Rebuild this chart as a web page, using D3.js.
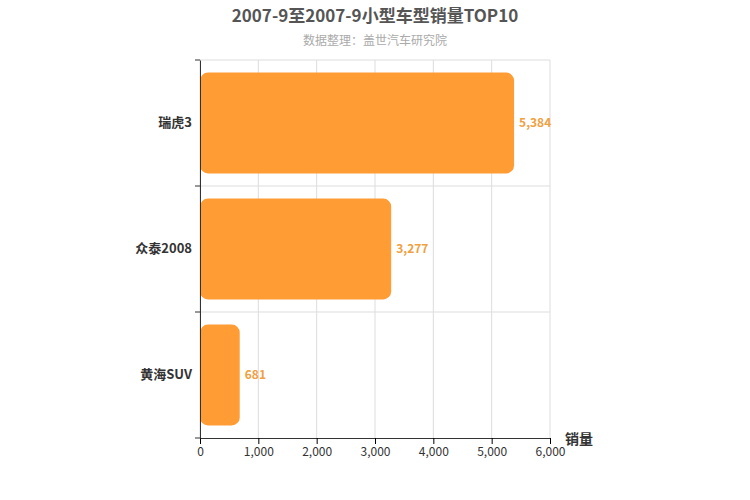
<!DOCTYPE html>
<html><head><meta charset="utf-8">
<script src="https://cdn.jsdelivr.net/npm/d3@7"></script>
<style>body{margin:0;background:#fff}text{font-family:"Noto Sans CJK SC","Liberation Sans",sans-serif}</style>
</head><body><svg id="c" width="750" height="500"></svg>
<script>
const categories = ["瑞虎3","众泰2008","黄海SUV"];
const values = [5384,3277,681];
const xTicks = [0,1000,2000,3000,4000,5000,6000];
const titleText = "2007-9至2007-9小型车型销量TOP10";
const subtitleText = "数据整理：盖世汽车研究院";
const axisName = "销量";

const svg = d3.select("#c");
const L=200,R=550,T=60,B=438;
const x = d3.scaleLinear().domain([0,6000]).range([L,R]);
const y = d3.scaleBand().domain(categories).range([T,B]).paddingInner(0.2).paddingOuter(0.1);
const yb = d3.scaleBand().domain(categories).range([T,B]);

svg.append("text").attr("x",375).attr("y",22).attr("text-anchor","middle").attr("font-size",17).attr("font-weight","bold").attr("fill","#555").text(titleText);
svg.append("text").attr("x",375).attr("y",45).attr("text-anchor","middle").attr("font-size",12).attr("fill","#aaa").text(subtitleText);

const g = svg.append("g");
xTicks.forEach(t=>g.append("line").attr("x1",x(t)).attr("x2",x(t)).attr("y1",T).attr("y2",B).attr("stroke","#ddd"));
categories.forEach((c,i)=>{ if(i>0) g.append("line").attr("x1",L).attr("x2",R).attr("y1",yb(c)).attr("y2",yb(c)).attr("stroke","#ddd");});
g.append("line").attr("x1",L).attr("x2",R).attr("y1",T).attr("y2",T).attr("stroke","#ddd");

categories.forEach((c,i)=>{
  g.append("rect").attr("x",x(0)).attr("y",y(c)).attr("width",x(values[i])-x(0)).attr("height",y.bandwidth()).attr("rx",8).attr("fill","#ff9c34");
  g.append("text").attr("x",x(values[i])+5).attr("y",y(c)+y.bandwidth()/2+4).attr("font-size",12).attr("font-weight","bold").attr("fill","#f0a040").text(d3.format(",")(values[i]));
});

const xa = svg.append("g").attr("transform",`translate(0,${B})`).call(d3.axisBottom(x).tickValues(xTicks).tickFormat(d3.format(",")).tickSizeOuter(0));
xa.selectAll("text").attr("font-size",12).attr("fill","#333");
xa.select(".domain").attr("stroke","#333");
const ya = svg.append("g").attr("transform",`translate(${L},0)`).call(d3.axisLeft(yb).tickSize(0).tickPadding(8));
ya.selectAll("text").attr("font-size",13).attr("font-weight","bold").attr("fill","#333");
ya.select(".domain").attr("stroke","#333");
[T,...categories.slice(1).map(c=>yb(c)),B].forEach(v=>svg.append("line").attr("x1",L-5).attr("x2",L).attr("y1",v).attr("y2",v).attr("stroke","#333"));
svg.append("text").attr("x",565).attr("y",444).attr("font-size",14).attr("font-weight","bold").attr("fill","#333").text(axisName);
</script></body></html>
